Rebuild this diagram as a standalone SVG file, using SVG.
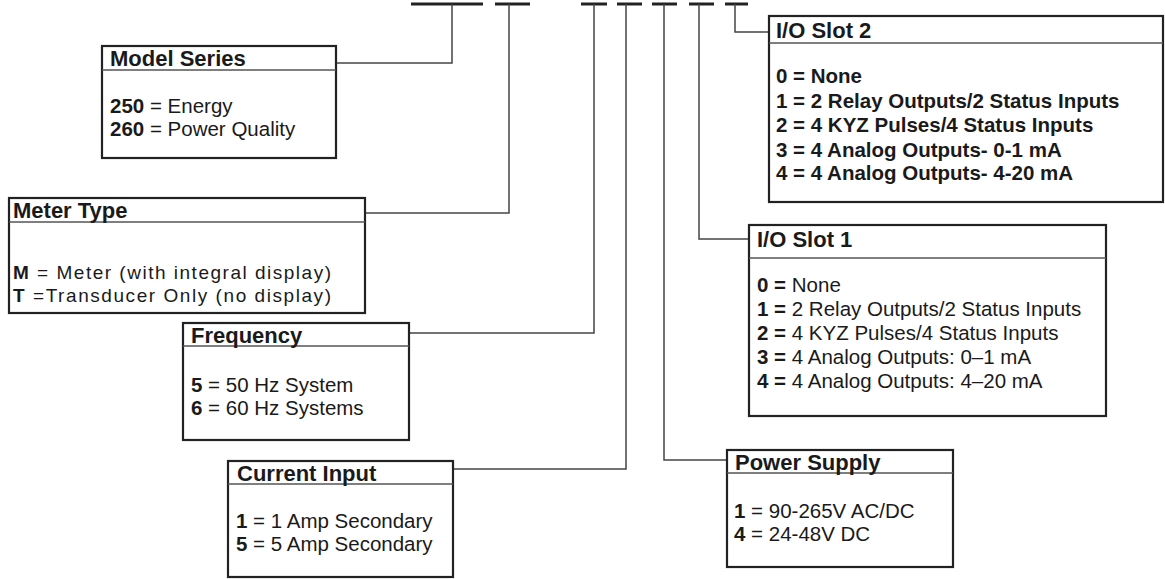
<svg xmlns="http://www.w3.org/2000/svg" width="1165" height="579" viewBox="0 0 1165 579">
<style>
.box{fill:#fff;stroke:#222;stroke-width:2.2}
.hl{stroke:#555;stroke-width:1.5}
.c{fill:none;stroke:#444;stroke-width:1.5}
.bar{stroke:#222;stroke-width:3}
text{font-family:"Liberation Sans",Arial,sans-serif;fill:#1a1a1a}
.h{font-size:22px;font-weight:bold}
.t{font-size:20.5px}
.m{font-size:19px}
.b{font-weight:bold}
</style>
<rect width="1165" height="579" fill="#fff"/>
<g id="connectors">
<line class="bar" x1="411" y1="4" x2="483" y2="4"/>
<line class="bar" x1="495" y1="4" x2="530" y2="4"/>
<line class="bar" x1="581" y1="4" x2="607" y2="4"/>
<line class="bar" x1="617" y1="4" x2="642" y2="4"/>
<line class="bar" x1="652" y1="4" x2="677" y2="4"/>
<line class="bar" x1="689" y1="4" x2="714" y2="4"/>
<line class="bar" x1="725" y1="4" x2="748" y2="4"/>
<polyline class="c" points="336,63 452,63 452,4"/>
<polyline class="c" points="365,213 509,213 509,4"/>
<polyline class="c" points="409,333 594,333 594,4"/>
<polyline class="c" points="453,469 626,469 626,4"/>
<polyline class="c" points="727,460 664,460 664,4"/>
<polyline class="c" points="749,239 699,239 699,4"/>
<polyline class="c" points="769,32 735,32 735,4"/>
</g>
<g id="model-series">
<rect class="box" x="102" y="46" width="234" height="112"/>
<line class="hl" x1="102" y1="70" x2="336" y2="70"/>
<text class="h" x="110" y="66">Model Series</text>
<text class="t" x="110" y="113"><tspan class="b">250</tspan> = Energy</text>
<text class="t" x="110" y="136"><tspan class="b">260</tspan> = Power Quality</text>
</g>
<g id="meter-type">
<rect class="box" x="9" y="198" width="356" height="115"/>
<line class="hl" x1="9" y1="222" x2="365" y2="222"/>
<text class="h" x="13" y="218">Meter Type</text>
<text class="m" x="13" y="279" textLength="318"><tspan class="b">M</tspan> = Meter (with integral display)</text>
<text class="m" x="13" y="302" textLength="318"><tspan class="b">T</tspan>  =Transducer Only (no display)</text>
</g>
<g id="frequency">
<rect class="box" x="183" y="323" width="226" height="117"/>
<line class="hl" x1="183" y1="346" x2="409" y2="346"/>
<text class="h" x="191" y="343">Frequency</text>
<text class="t" x="191" y="392"><tspan class="b">5</tspan> = 50 Hz System</text>
<text class="t" x="191" y="415"><tspan class="b">6</tspan> = 60 Hz Systems</text>
</g>
<g id="current-input">
<rect class="box" x="228" y="461" width="225" height="116"/>
<line class="hl" x1="228" y1="484" x2="453" y2="484"/>
<text class="h" x="237" y="481">Current Input</text>
<text class="t" x="236" y="528"><tspan class="b">1</tspan> = 1 Amp Secondary</text>
<text class="t" x="236" y="551"><tspan class="b">5</tspan> = 5 Amp Secondary</text>
</g>
<g id="power-supply">
<rect class="box" x="727" y="450" width="226" height="117"/>
<line class="hl" x1="727" y1="473" x2="953" y2="473"/>
<text class="h" x="735" y="470">Power Supply</text>
<text class="t" x="734" y="518"><tspan class="b">1</tspan> = 90-265V AC/DC</text>
<text class="t" x="734" y="541"><tspan class="b">4</tspan> = 24-48V DC</text>
</g>
<g id="io-slot-1">
<rect class="box" x="749" y="225" width="357" height="191"/>
<line class="hl" x1="749" y1="258" x2="1106" y2="258"/>
<text class="h" x="757" y="247">I/O Slot 1</text>
<text class="t" x="757" y="292"><tspan class="b">0 =</tspan> None</text>
<text class="t" x="757" y="316"><tspan class="b">1 =</tspan> 2 Relay Outputs/2 Status Inputs</text>
<text class="t" x="757" y="340"><tspan class="b">2 =</tspan> 4 KYZ Pulses/4 Status Inputs</text>
<text class="t" x="757" y="364"><tspan class="b">3 =</tspan> 4 Analog Outputs: 0–1 mA</text>
<text class="t" x="757" y="388"><tspan class="b">4 =</tspan> 4 Analog Outputs: 4–20 mA</text>
</g>
<g id="io-slot-2">
<rect class="box" x="769" y="16" width="394" height="186"/>
<line class="hl" x1="769" y1="43" x2="1163" y2="43"/>
<text class="h" x="776" y="38">I/O Slot 2</text>
<text class="t b" x="776" y="83">0 = None</text>
<text class="t b" x="776" y="108">1 = 2 Relay Outputs/2 Status Inputs</text>
<text class="t b" x="776" y="132">2 = 4 KYZ Pulses/4 Status Inputs</text>
<text class="t b" x="776" y="157">3 = 4 Analog Outputs- 0-1 mA</text>
<text class="t b" x="776" y="180">4 = 4 Analog Outputs- 4-20 mA</text>
</g>
</svg>
